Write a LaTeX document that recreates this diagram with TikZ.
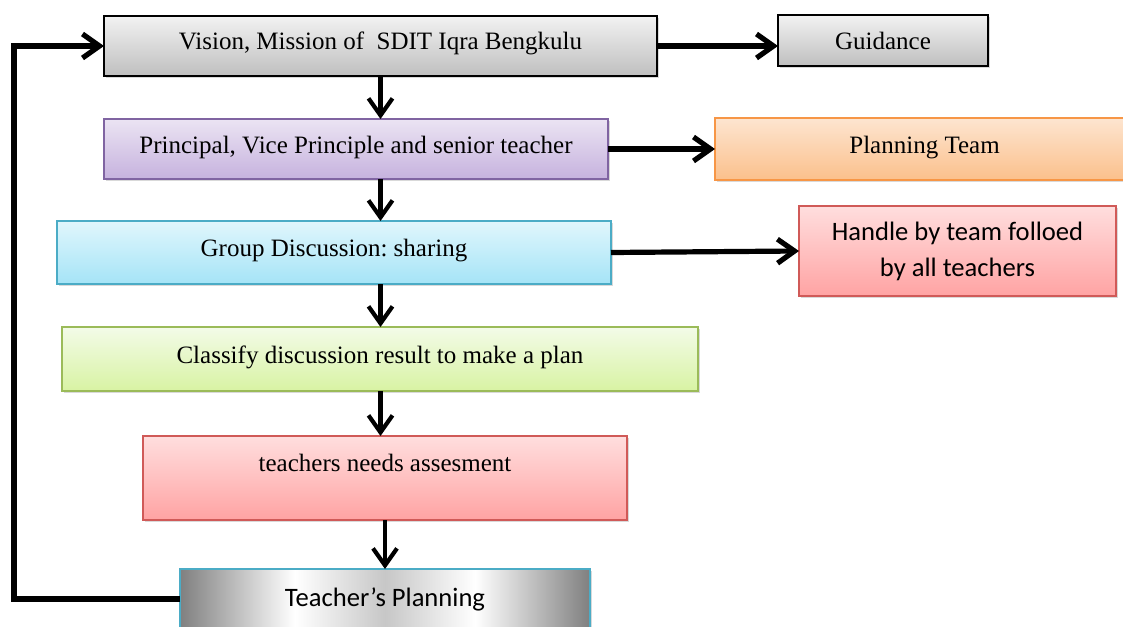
\documentclass[tikz,border=0pt]{standalone}
\usepackage{fontspec}
\setmainfont{Liberation Serif}
\newfontfamily\calibri{Carlito}
\usetikzlibrary{arrows.meta,shadows}
\frenchspacing

\definecolor{grayA}{HTML}{F2F2F2}
\definecolor{grayB}{HTML}{BFBFBF}
\definecolor{purpleA}{HTML}{EBE4F3}
\definecolor{purpleB}{HTML}{C6B2DE}
\definecolor{purpleC}{HTML}{8064A2}
\definecolor{orangeA}{HTML}{FDE5D0}
\definecolor{orangeB}{HTML}{FBC08C}
\definecolor{orangeC}{HTML}{F79646}
\definecolor{blueA}{HTML}{E0F6FC}
\definecolor{blueB}{HTML}{A5E4F7}
\definecolor{blueC}{HTML}{4BACC6}
\definecolor{redA}{HTML}{FFDEDE}
\definecolor{redB}{HTML}{FFA3A3}
\definecolor{redC}{HTML}{D05A58}
\definecolor{greenA}{HTML}{F3FBE8}
\definecolor{greenB}{HTML}{D8F3A3}
\definecolor{greenC}{HTML}{9BBB59}

\pgfdeclarehorizontalshading{planshade}{100bp}{color(0bp)=(black!50); color(25bp)=(black!50); color(39bp)=(white); color(50bp)=(black!22); color(61bp)=(white); color(75bp)=(black!50); color(100bp)=(black!50)}

\begin{document}
\begin{tikzpicture}[x=0.5pt,y=-0.5pt,inner sep=0pt,outer sep=0pt,line width=2.6pt,
>={Straight Barb[length=8.5pt,width=12pt]},
down/.style={->,line width=2.1pt},
flowbox/.style={draw,rectangle,inner sep=3pt,line width=0.8pt,font=\fontsize{12.5}{15}\selectfont,
  drop shadow={opacity=0.3,shadow xshift=1.2pt,shadow yshift=-1.2pt}},
raised/.style={text height=9pt,text depth=5pt},
graybox/.style={flowbox,line width=1pt,top color=grayA,bottom color=grayB},
purplebox/.style={flowbox,draw=purpleC,top color=purpleA,bottom color=purpleB},
orangebox/.style={flowbox,draw=orangeC,top color=orangeA,bottom color=orangeB},
bluebox/.style={flowbox,draw=blueC,top color=blueA,bottom color=blueB},
redbox/.style={flowbox,draw=redC,top color=redA,bottom color=redB},
greenbox/.style={flowbox,draw=greenC,top color=greenA,bottom color=greenB}]

\useasboundingbox (0,0) rectangle (1123,626);

\draw (380.5,46) node[graybox,raised,minimum width=276.5pt,minimum height=30pt] (vision) {Vision, Mission of \ SDIT Iqra Bengkulu};
\draw (883,40.5) node[graybox,minimum width=105pt,minimum height=25.5pt] (guide) {Guidance};
\draw (356,149) node[purplebox,raised,minimum width=252pt,minimum height=30pt] (princ) {Principal, Vice Principle and senior teacher};
\draw (924.5,149) node[orangebox,raised,minimum width=209.5pt,minimum height=31pt] (team) {Planning Team};
\draw (334,252.5) node[bluebox,raised,minimum width=277pt,minimum height=31.5pt] (group) {Group Discussion: sharing};
\draw (957.5,251) node[redbox,align=center,font=\calibri\fontsize{13.3}{18}\selectfont,minimum width=158.5pt,minimum height=45pt] (handle) {Handle by team folloed\\by all teachers};
\draw (380,359) node[greenbox,raised,minimum width=318pt,minimum height=32pt] (classify) {Classify discussion result to make a plan};
\draw (385,478) node[redbox,text height=9pt,text depth=15.8pt,minimum width=242pt,minimum height=42pt] (needs) {teachers needs assesment};
\draw (385,599) node[flowbox,draw=blueC,shade,shading=planshade,font=\calibri\fontsize{13.3}{16}\selectfont,minimum width=205pt,minimum height=30pt] (plan) {Teacher’s Planning};
\coordinate (back) at (14,46);

\draw[->] (vision.0) -- (vision.0 -| guide.180);
\draw[down] (vision.-90) -- (vision.-90 |- princ.90);
\draw[->] (princ.0) -- (team.180);
\draw[down] (princ.-90 -| vision.-90) -- (vision.-90 |- group.90);
\draw[->] (group.0) -- (handle.180);
\draw[down] (group.-90 -| vision.-90) -- (vision.-90 |- classify.90);
\draw[down] (classify.-90 -| vision.-90) -- (vision.-90 |- needs.90);
\draw[down] (needs.-90) -- (plan.90);
\draw[->] (plan.180) -| (back) -- (vision.180);
\end{tikzpicture}
\end{document}
